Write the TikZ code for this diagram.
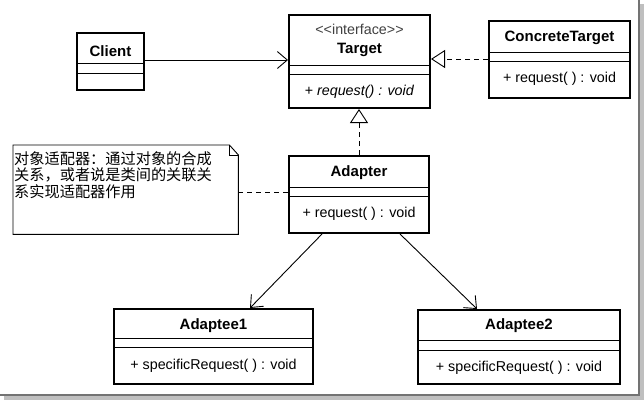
\documentclass[tikz,border=0pt]{standalone}
\usepackage{fontspec}
\setmainfont{Liberation Sans}
\newfontfamily\cjk{Noto Sans CJK SC}
\usetikzlibrary{arrows.meta,calc}

\tikzset{
  umlbox/.style={draw, line width=2pt, inner sep=0pt, anchor=north west},
  clsname/.style={font=\fontsize{15}{17}\selectfont\bfseries, inner sep=0pt},
  member/.style={font=\fontsize{14.3}{17}\selectfont, inner sep=0pt},
  stereo/.style={font=\fontsize{14.3}{16}\selectfont, inner sep=0pt, text=black!75},
  sepline/.style={line width=0.9pt},
  realize/.style={line width=0.9pt, dash pattern=on 5pt off 4pt,
    -{Triangle[open,length=14pt,width=18pt,line width=0.9pt]}},
  assoc/.style={line width=0.9pt, -{Straight Barb[length=10pt,width=17pt,line width=0.9pt]}},
  notelink/.style={line width=0.9pt, dash pattern=on 5pt off 4pt},
}
\newcommand{\compsep}[2]{\draw[sepline] (#1.west |- 0,#2) -- (#1.east |- 0,#2);}

\begin{document}
\begin{tikzpicture}[x=1pt,y=-1pt]
  \useasboundingbox (0,0) rectangle (644,400);
  % frame with shadow
  \fill[black!25] (4,4) rectangle (644,400);
  \draw[black!55, line width=1.2pt, fill=white] (-1,-1) rectangle (639,395);

  % classes
  \node[umlbox, minimum width=67pt, minimum height=57pt] (client) at (76,32) {};
  \node[clsname] at (client.north |- 0,51) {Client};
  \compsep{client}{63}
  \compsep{client}{73}

  \node[umlbox, minimum width=141pt, minimum height=93pt] (target) at (288,14) {};
  \node[stereo] at (target.north |- 0,29) {{<}{<}interface{>}{>}};
  \node[clsname] at (target.north |- 0,50) {Target};
  \compsep{target}{65}
  \compsep{target}{74}
  \node[member] at (target.north |- 0,92) {+ \textit{request() : void}};

  \node[umlbox, minimum width=141pt, minimum height=77pt] (concrete) at (488,20) {};
  \node[clsname] at (concrete.north |- 0,38) {ConcreteTarget};
  \compsep{concrete}{52}
  \compsep{concrete}{61}
  \node[member] at (concrete.north |- 0,79) {+ request( ) : void};

  \node[umlbox, minimum width=140pt, minimum height=77pt] (adapter) at (288,155) {};
  \node[clsname] at (adapter.north |- 0,173) {Adapter};
  \compsep{adapter}{187}
  \compsep{adapter}{196}
  \node[member] at (adapter.north |- 0,214) {+ request( ) : void};

  \node[umlbox, minimum width=199pt, minimum height=75pt] (adaptee1) at (113,308) {};
  \node[clsname] at (adaptee1.north |- 0,326) {Adaptee1};
  \compsep{adaptee1}{338}
  \compsep{adaptee1}{347}
  \node[member] at (adaptee1.north |- 0,366) {+ specificRequest( ) : void};

  \node[umlbox, minimum width=202pt, minimum height=74pt] (adaptee2) at (417,309) {};
  \node[clsname] at (adaptee2.north |- 0,326) {Adaptee2};
  \compsep{adaptee2}{340}
  \compsep{adaptee2}{350}
  \node[member] at (adaptee2.north |- 0,368) {+ specificRequest( ) : void};

  % note
  \node[anchor=north west, inner sep=0pt, minimum width=225pt, minimum height=89pt] (note) at (13,145) {};
  \draw[line width=0.9pt] (note.north west) -- ($(note.north east)+(-9,0)$)
    -- ($(note.north east)+(0,10)$) -- (note.south east) -- (note.south west) -- cycle;
  \draw[line width=0.9pt] ($(note.north east)+(-9,0)$) |- ($(note.north east)+(0,10)$);
  \node[anchor=north west, align=left, inner sep=0pt,
        font=\cjk\fontsize{15.2}{16.8}\selectfont] (notetext) at (14,151)
    {对象适配器：通过对象的合成\\关系，或者说是类间的关联关\\系实现适配器作用};

  % connectors
  \draw[assoc] (client.east |- 0,60) -- (target.west |- 0,60);
  \draw[realize] (concrete.west |- 0,59) -- (target.east |- 0,59);
  \draw[realize] (adapter.north) -- (adapter.north |- target.south);
  \draw[notelink] (note.east |- 0,192) -- (adapter.west |- 0,192);
  \draw[assoc] ($(adapter.south west)+(34,0)$) -- ($(adaptee1.north west)+(137,0)$);
  \draw[assoc] ($(adapter.south west)+(112,0)$) -- ($(adaptee2.north west)+(60,0)$);
\end{tikzpicture}
\end{document}
